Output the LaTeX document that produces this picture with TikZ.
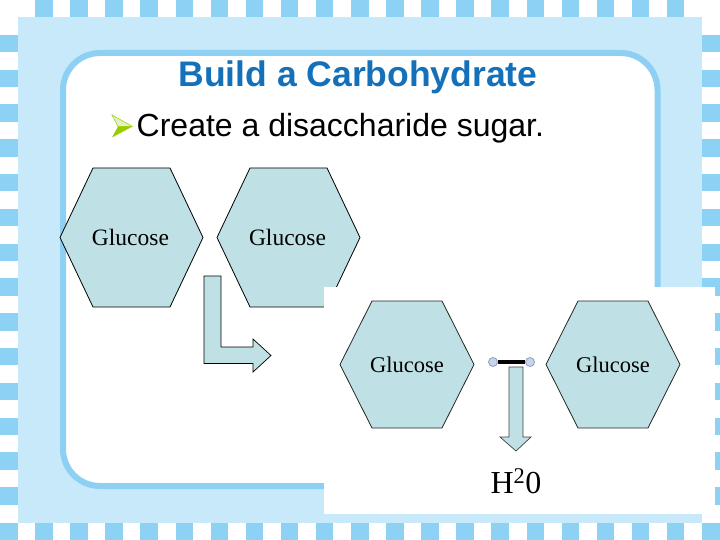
\documentclass[tikz,border=0pt]{standalone}
\usepackage{fontspec}
\setmainfont{Liberation Serif}
\newfontfamily\slidefont{Liberation Sans}
\usetikzlibrary{positioning}
\definecolor{tileBlue}{HTML}{8DD2F5}
\definecolor{panelBlue}{HTML}{C7E9FA}
\definecolor{frameBlue}{HTML}{8DD0F3}
\definecolor{titleBlue}{HTML}{1570BA}
\definecolor{sugarFill}{HTML}{BFE1E6}
\definecolor{bulletGreen}{HTML}{99CC00}
\definecolor{bulletLight}{HTML}{E4F2BE}
\definecolor{ballFill}{HTML}{C9D3EC}
\definecolor{ballDraw}{HTML}{8F9CC4}

\begin{document}
\begin{tikzpicture}[x=1pt, y=-1pt,
  tile/.style={fill=tileBlue},
  hexa/.style={fill=sugarFill, draw=black, line width=0.8pt},
  sugar/.style={inner sep=0pt, font=\fontsize{23.5}{26}\selectfont},
  blockarrow/.style={fill=sugarFill, draw=black, line width=0.7pt},
  ball/.style={circle, fill=ballFill, draw=ballDraw, line width=0.8pt,
    minimum size=9pt, inner sep=0pt}]

  \useasboundingbox (0,0) rectangle (720,540);
  \fill[white] (0,0) rectangle (720,540);

  % checkered border
  \foreach \k in {1,...,19} \fill[tile] (35.1*\k,0) rectangle ++(17.5,17.4);
  \foreach \k in {0,...,20} \fill[tile] (35.1*\k,522.5) rectangle ++(17.5,17.5);
  \foreach \k in {1,...,14} \fill[tile] (0,34.8*\k) rectangle ++(17.5,17.4);
  \foreach \k in {1,...,14} \fill[tile] (702,34.8*\k) rectangle ++(18,17.4);

  % panel and frame
  \fill[panelBlue] (17.5,17.4) rectangle (702,522.5);
  \draw[frameBlue, line width=6pt, fill=white, rounded corners=37pt]
    (63,53) rectangle (657.5,486);

  % title and bullet
  \node[anchor=base, inner sep=0pt, text=titleBlue,
    font=\slidefont\bfseries\fontsize{35.5}{40}\selectfont] (title) at (358,87)
    {Build a Carbohydrate};
  \node[anchor=base west, inner sep=0pt,
    font=\slidefont\fontsize{32}{36}\selectfont] (bullet) at (136.5,137)
    {Create a disaccharide sugar.};
  \fill[bulletLight, draw=bulletGreen, line width=0.5pt]
    (112,115) -- (132.5,126.5) -- (118,126.5) -- cycle;
  \fill[bulletGreen] (118,126.5) -- (132.5,126.5) -- (112,137.5) -- cycle;

  % two separate glucose
  \draw[hexa] (60,237.5) -- (93,168) -- (170,168) -- (203,237.5)
    -- (170,307) -- (93,307) -- cycle;
  \node[sugar] (glu1) at (130.5,237.5) {Glucose};
  \draw[hexa] (217,237.5) -- (250,168) -- (327,168) -- (360,237.5)
    -- (327,307) -- (250,307) -- cycle;
  \node[sugar] (glu2) at (287.5,237.5) {Glucose};

  \draw[blockarrow] (204,276) -- (221,276) -- (221,347) -- (253,347)
    -- (253,339) -- (271,355.5) -- (253,372) -- (253,363.5) -- (204,363.5) -- cycle;

  % joined picture
  \fill[white] (323.5,287) rectangle (715,513.5);
  \draw[hexa, draw=black!85] (340,364.5) -- (372,301) -- (442,301) -- (474,364.5)
    -- (442,428) -- (372,428) -- cycle;
  \node[sugar, font=\fontsize{22.5}{25}\selectfont] (glu3) at (407,365) {Glucose};
  \draw[hexa, draw=black!85] (546,364.5) -- (578,301) -- (648,301) -- (680,364.5)
    -- (648,428) -- (578,428) -- cycle;
  \node[sugar, font=\fontsize{22.5}{25}\selectfont] (glu4) at (613,365) {Glucose};

  \node[ball] (bondL) at (493,362) {};
  \node[ball] (bondR) at (530,362) {};
  \draw[line width=3.5pt] (bondL) -- (bondR);

  \draw[blockarrow, draw=black!75] (509,367) -- (523,367) -- (523,437) -- (531,437)
    -- (516,451) -- (500,437) -- (509,437) -- cycle;
  \node[anchor=base, inner sep=0pt, font=\fontsize{32}{36}\selectfont] (water)
    at (516,493) {H\textsuperscript{2}0};
\end{tikzpicture}
\end{document}
